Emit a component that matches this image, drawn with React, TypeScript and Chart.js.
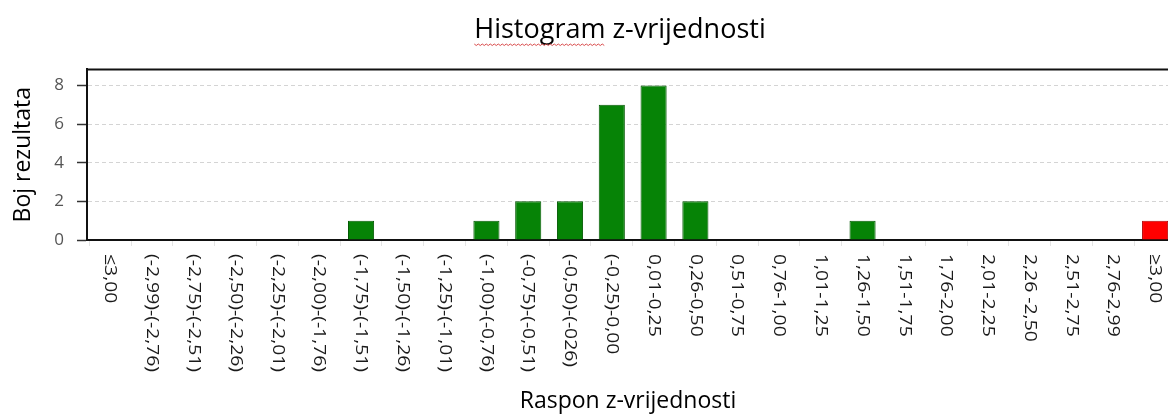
import React, { useEffect, useRef } from 'react';
import { Chart, registerables } from 'chart.js';

Chart.register(...registerables);

const categories = [
  '≤3,00',
  '(-2,99)-(-2,76)',
  '(-2,75)-(-2,51)',
  '(-2,50)-(-2,26)',
  '(-2,25)-(-2,01)',
  '(-2,00)-(-1,76)',
  '(-1,75)-(-1,51)',
  '(-1,50)-(-1,26)',
  '(-1,25)-(-1,01)',
  '(-1,00)-(-0,76)',
  '(-0,75)-(-0,51)',
  '(-0,50)-(-026)',
  '(-0,25)-0,00',
  '0,01-0,25',
  '0,26-0,50',
  '0,51-0,75',
  '0,76-1,00',
  '1,01-1,25',
  '1,26-1,50',
  '1,51-1,75',
  '1,76-2,00',
  '2,01-2,25',
  '2,26 -2,50',
  '2,51-2,75',
  '2,76-2,99',
  '≥3,00',
];

const counts = [0, 0, 0, 0, 0, 0, 1, 0, 0, 1, 2, 2, 7, 8, 2, 0, 0, 0, 1, 0, 0, 0, 0, 0, 0, 1];

const outlierBins = ['≤3,00', '≥3,00'];

const yTicks = [0, 2, 4, 6, 8];
const yMax = 8.83;

const chartTitle = 'Histogram z-vrijednosti';
const xTitle = 'Raspon z-vrijednosti';
const yTitle = 'Boj rezultata';

const GREEN = '#068306';
const GREEN_EDGE = '#045a04';
const RED = '#ff0000';
const RED_EDGE = '#b00000';
const FONT = "'Open Sans', 'DejaVu Sans', sans-serif";

const frameAndLabels = {
  id: 'frameAndLabels',
  afterDraw(chart: any) {
    const { ctx, chartArea } = chart;
    const x = chart.scales.x;
    ctx.save();
    // top frame line
    ctx.strokeStyle = '#111';
    ctx.lineWidth = 2;
    ctx.beginPath();
    ctx.moveTo(chartArea.left - 1, chartArea.top);
    ctx.lineTo(chartArea.right, chartArea.top);
    ctx.stroke();

    // rotated category labels (reading top to bottom)
    ctx.font = `17px ${FONT}`;
    ctx.fillStyle = '#1a1a1a';
    ctx.textAlign = 'left';
    ctx.textBaseline = 'middle';
    x.ticks.forEach((t: any, i: number) => {
      const px = x.getPixelForTick(i);
      ctx.save();
      ctx.translate(px, chartArea.bottom + 14);
      ctx.scale(1, 1.14);
      ctx.rotate(Math.PI / 2);
      ctx.fillText(categories[t.value], 0, 0);
      ctx.restore();
    });

    // spell-check squiggle under first title word
    ctx.font = `27px ${FONT}`;
    const full = ctx.measureText(chartTitle).width;
    const word = ctx.measureText(chartTitle.split(' ')[0]).width;
    const cx = chart.width / 2;
    const sx = cx - full / 2;
    const sy = 44;
    ctx.strokeStyle = '#d84a4a';
    ctx.lineWidth = 1;
    ctx.beginPath();
    for (let k = 0; k <= word; k += 2) {
      const yy = sy + ((k / 2) % 2 === 0 ? 0 : 1.5);
      if (k === 0) ctx.moveTo(sx + k, yy);
      else ctx.lineTo(sx + k, yy);
    }
    ctx.stroke();
    ctx.restore();
  },
};

export default function App() {
  const ref = useRef<HTMLCanvasElement | null>(null);

  useEffect(() => {
    if (!ref.current) return;
    Chart.defaults.font.family = FONT;
    const chart = new Chart(ref.current, {
      type: 'bar',
      data: {
        labels: categories,
        datasets: [
          {
            data: counts,
            backgroundColor: categories.map((c) => (outlierBins.includes(c) ? RED : GREEN)),
            borderColor: categories.map((c) => (outlierBins.includes(c) ? RED_EDGE : GREEN_EDGE)),
            borderWidth: 1,
            barPercentage: 0.625,
            categoryPercentage: 1,
          },
        ],
      },
      options: {
        animation: false,
        responsive: false,
        events: [],
        layout: { padding: 0 },
        plugins: {
          legend: { display: false },
          tooltip: { enabled: false },
          title: {
            display: true,
            text: chartTitle,
            color: '#000',
            font: { size: 27, weight: 'normal' as any, family: FONT },
            padding: { top: 14, bottom: 23 },
          },
        },
        scales: {
          x: {
            type: 'category',
            offset: true,
            afterBuildTicks: (s: any) => {
              s._startValue = -0.5575;
              s._valueRange = 25.89;
            },
            afterFit: (s: any) => {
              s.height = 179;
            },
            border: { display: true, color: '#111', width: 2 },
            grid: {
              display: true,
              drawOnChartArea: false,
              drawTicks: true,
              tickLength: 6,
              tickColor: '#e4e4e4',
              offset: true,
            },
            ticks: { display: false },
            title: {
              display: true,
              text: xTitle,
              color: '#000',
              font: { size: 23, family: FONT },
              padding: { top: 0, bottom: 4 },
            },
          },
          y: {
            type: 'linear',
            min: 0,
            max: yMax,
            afterBuildTicks: (s: any) => {
              s.ticks = yTicks.map((v) => ({ value: v }));
            },
            afterFit: (s: any) => {
              s.width = 87;
            },
            border: { display: true, color: '#111', width: 2, dash: [4, 3] },
            grid: {
              color: '#d4d4d4',
              lineWidth: 1,
              tickLength: 10,
              tickColor: '#333',
              tickWidth: 1.5,
            },
            ticks: {
              color: '#555',
              padding: 13,
              font: { size: 17, family: FONT },
            },
            title: {
              display: true,
              text: yTitle,
              color: '#000',
              font: { size: 23, family: FONT },
              padding: { top: 10, bottom: 0 },
            },
          },
          y2: {
            type: 'linear',
            position: 'right',
            display: true,
            grid: { display: false },
            border: { display: false },
            ticks: { display: false },
            afterFit: (s: any) => {
              s.width = 71;
            },
          },
        },
      },
      plugins: [frameAndLabels],
    });
    return () => chart.destroy();
  }, []);

  return (
    <div
      style={{
        position: 'fixed',
        left: 0,
        top: 0,
        width: 1168,
        height: 419,
        overflow: 'hidden',
        background: '#fff',
      }}
    >
      <canvas ref={ref} width={1240} height={419} style={{ display: 'block' }} />
    </div>
  );
}
